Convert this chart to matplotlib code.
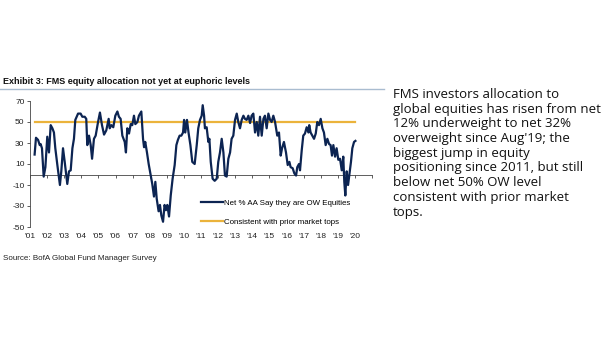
import numpy as np
import matplotlib
matplotlib.use("Agg")
import matplotlib.pyplot as plt

# Net % of FMS investors overweight equities (decimal year)
dates = [
    2001.27, 2001.35, 2001.47, 2001.57, 2001.62, 2001.70, 2001.80, 2001.90,
    2002.01, 2002.11, 2002.21, 2002.31, 2002.40, 2002.48, 2002.60, 2002.75,
    2002.83, 2002.93, 2003.03, 2003.18, 2003.28, 2003.38, 2003.48, 2003.57,
    2003.65, 2003.81, 2003.96, 2004.06, 2004.20, 2004.29, 2004.35, 2004.45,
    2004.55, 2004.63, 2004.74, 2004.84, 2004.98, 2005.09, 2005.21, 2005.33,
    2005.46, 2005.60, 2005.66, 2005.76, 2005.87, 2005.99, 2006.11, 2006.20,
    2006.30, 2006.40, 2006.54, 2006.61, 2006.69, 2006.79, 2006.89, 2006.98,
    2007.08, 2007.16, 2007.28, 2007.37, 2007.51, 2007.61, 2007.67, 2007.74,
    2007.84, 2007.94, 2008.06, 2008.15, 2008.25, 2008.33, 2008.41, 2008.52,
    2008.60, 2008.68, 2008.78, 2008.87, 2008.95, 2009.03, 2009.13, 2009.23,
    2009.34, 2009.46, 2009.56, 2009.65, 2009.75, 2009.85, 2009.95, 2010.01,
    2010.08, 2010.18, 2010.27, 2010.38, 2010.49, 2010.63,
    2010.75, 2010.84, 2010.94, 2011.04, 2011.10, 2011.18, 2011.23, 2011.33,
    2011.43, 2011.49, 2011.57, 2011.68, 2011.80, 2011.92, 2012.01, 2012.11,
    2012.21, 2012.31, 2012.40, 2012.50, 2012.60, 2012.70, 2012.79, 2012.89,
    2012.99, 2013.09, 2013.18, 2013.28, 2013.38, 2013.48, 2013.57, 2013.67,
    2013.77, 2013.87, 2013.96, 2014.06, 2014.16, 2014.26, 2014.35, 2014.45,
    2014.55, 2014.65, 2014.74, 2014.84, 2014.94, 2015.04, 2015.13, 2015.23,
    2015.33, 2015.39, 2015.46, 2015.56, 2015.66, 2015.74, 2015.85, 2015.97,
    2016.07, 2016.17, 2016.24, 2016.36, 2016.46, 2016.56, 2016.63, 2016.73,
    2016.79, 2016.89, 2016.98, 2017.08, 2017.18, 2017.28, 2017.33, 2017.41,
    2017.51, 2017.61, 2017.71, 2017.80, 2017.90, 2018.00, 2018.10, 2018.19,
    2018.29, 2018.39, 2018.49, 2018.58, 2018.66, 2018.74, 2018.84, 2018.93,
    2019.03, 2019.13, 2019.23, 2019.32, 2019.38, 2019.44, 2019.52, 2019.60,
    2019.67, 2019.77, 2019.85, 2019.95, 2020.03,
]
net_ow = [
    19, 35, 33, 28, 29, 25, -2, 7,
    36, 21, 47, 44, 40, 25, 9, -10,
    3, 25, 12, -9, 3, 4, 25, 34,
    52, 58, 58, 55, 55, 53, 28, 37,
    28, 15, 34, 37, 50, 59, 47, 38,
    42, 53, 44, 47, 45, 56, 60, 55,
    53, 37, 31, 21, 44, 39, 48, 47,
    56, 48, 50, 56, 60, 34, 26, 31,
    21, 10, -1, -9, -21, -7, -23, -35,
    -29, -39, -45, -29, -34, -29, -40, -20,
    -4, 9, 28, 33, 37, 37, 40, 52,
    40, 52, 40, 28, 12, 10,
    28, 44, 52, 56, 66, 56, 44, 45,
    31, 34, 12, -4, -6, -4, 12, 21,
    34, 21, -1, -2, 15, 21, 34, 37,
    52, 58, 50, 44, 52, 56, 53, 52,
    56, 49, 56, 58, 40, 50, 37, 55,
    37, 53, 56, 44, 58, 52, 50, 56,
    50, 44, 37, 40, 18, 25, 31, 21,
    9, 12, 7, 6, 1, -1, 7, 10,
    4, 23, 37, 39, 45, 40, 47, 40,
    37, 34, 39, 50, 47, 53, 44, 40,
    28, 34, 29, 28, 18, 28, 17, 25,
    14, 15, 4, 17, -7, -20, 3, -10,
    -1, 12, 25, 31, 32,
]
top_level = 50
top_start, top_end = 2001.3, 2020.0

year_ticks = list(range(2001, 2021))
year_labels = ["'%02d" % (y % 100) for y in year_ticks]
y_ticks = [70, 50, 30, 10, -10, -30, -50]

navy = "#0c2452"
gold = "#ebb33b"
font = ["Liberation Sans", "DejaVu Sans"]

fig = plt.figure(figsize=(6.05, 3.41), dpi=100)
ax = fig.add_axes([30 / 605, 1 - 227 / 341, 342 / 605, 126 / 341])

ax.plot(dates, net_ow, color=navy, lw=1.6, label="Net % AA Say they are OW Equities", zorder=3)
ax.plot([top_start, top_end], [top_level, top_level], color=gold, lw=1.6,
        label="Consistent with prior market tops", zorder=2)

ax.set_xlim(2001, 2021)
ax.set_ylim(-50, 70)
ax.set_yticks(y_ticks)
ax.set_yticklabels([str(v) for v in y_ticks], family=font, fontsize=6, color="#222222")
ax.spines["top"].set_visible(False)
ax.spines["right"].set_visible(False)
ax.spines["left"].set_color("#444444")
ax.spines["left"].set_linewidth(0.6)
ax.spines["bottom"].set_position(("data", 0))
ax.spines["bottom"].set_color("#444444")
ax.spines["bottom"].set_linewidth(0.6)
ax.set_xticks(year_ticks + [2021])
ax.tick_params(axis="x", length=2, width=0.6, color="#444444", labelbottom=False)
ax.tick_params(axis="y", length=2, width=0.6, color="#444444", pad=2)

sec = ax.secondary_xaxis("bottom")
sec.set_xticks(year_ticks)
sec.set_xticklabels(year_labels, family=font, fontsize=6, color="#222222")
sec.tick_params(length=0, pad=4)
sec.spines["bottom"].set_visible(False)

leg = ax.legend(loc="upper left", bbox_to_anchor=(201 / 605, 1 - 199 / 341),
                bbox_transform=fig.transFigure, frameon=False,
                prop={"family": font, "size": 5.7}, handlelength=2.8,
                handletextpad=0.1, labelspacing=1.45, borderpad=0, borderaxespad=0)

fig.text(3 / 605, 1 - 81 / 341, "Exhibit 3: FMS equity allocation not yet at euphoric levels",
         family=font, fontsize=6.5, fontweight="bold", va="center", ha="left", color="#111111")
fig.add_artist(plt.Line2D([0, 384 / 605], [1 - 89 / 341] * 2, color="#a9bcd0", lw=1.0,
                          transform=fig.transFigure))
fig.text(3 / 605, 1 - 258 / 341, "Source: BofA Global Fund Manager Survey",
         family=font, fontsize=5.8, va="center", ha="left", color="#222222")

note = ("FMS investors allocation to\n"
        "global equities has risen from net\n"
        "12% underweight to net 32%\n"
        "overweight since Aug'19; the\n"
        "biggest jump in equity\n"
        "positioning since 2011, but still\n"
        "below net 50% OW level\n"
        "consistent with prior market\n"
        "tops.")
fig.text(393 / 605, 1 - 88 / 341, note, family=["Open Sans", "DejaVu Sans"], fontsize=9.5,
         va="top", ha="left", color="#111111", linespacing=1.17)

fig.savefig("out.png", dpi=100)
